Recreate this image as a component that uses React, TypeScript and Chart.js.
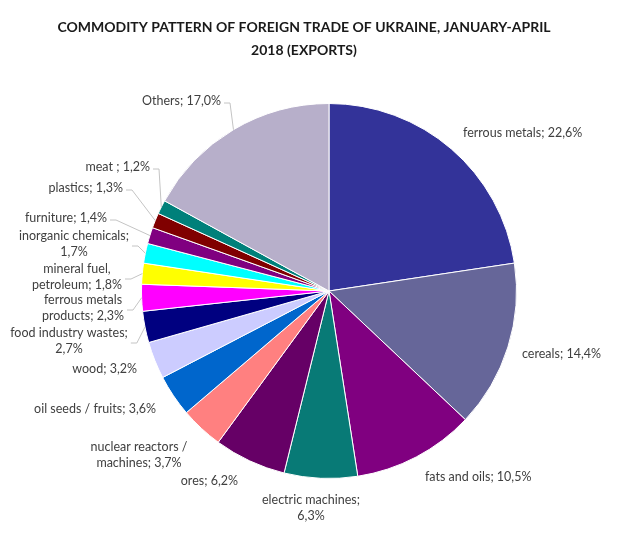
import React, { useEffect, useRef } from "react";
import { Chart, registerables } from "chart.js";

Chart.register(...registerables);

// ---------- data ----------
const TITLE_LINES = [
  "COMMODITY PATTERN OF FOREIGN TRADE OF UKRAINE, JANUARY-APRIL",
  "2018 (EXPORTS)",
];

const CATEGORIES = [
  "ferrous metals",
  "cereals",
  "fats and oils",
  "electric machines",
  "ores",
  "nuclear reactors / machines",
  "oil seeds / fruits",
  "wood",
  "food industry wastes",
  "ferrous metals products",
  "mineral fuel, petroleum",
  "inorganic chemicals",
  "furniture",
  "plastics",
  "meat ",
  "Others",
];

const SHARES = [22.6, 14.4, 10.5, 6.3, 6.2, 3.7, 3.6, 3.2, 2.7, 2.3, 1.8, 1.7, 1.4, 1.3, 1.2, 17.0];

const COLORS = [
  "#333399",
  "#666699",
  "#800080",
  "#087A76",
  "#660066",
  "#FF8080",
  "#0066CC",
  "#CCCCFF",
  "#000080",
  "#FF00FF",
  "#FFFF00",
  "#00FFFF",
  "#800080",
  "#800000",
  "#00807A",
  "#B7AFCA",
];

// ---------- label layout (text placement only) ----------
// number of words on first line (0 = single line)
const LINE_SPLIT = [0, 0, 0, 2, 0, 3, 0, 0, 3, 2, 2, 2, 0, 0, 0, 0];
// anchor x, anchor y (block centre), alignment
const LABEL_X = [463, 522, 425, 311, 238, 139, 156, 137, 69, 83, 77, 74, 107, 123, 150, 221];
const LABEL_Y = [133, 354, 477, 508, 481, 455, 409, 369, 341, 308, 277, 244, 218, 188, 167, 101];
const LABEL_ALIGN: CanvasTextAlign[] = [
  "left", "left", "left", "center", "right", "center", "right", "right",
  "center", "center", "center", "center", "right", "right", "right", "right",
];
const HAS_LEADER = [false, false, false, false, false, false, false, false, true, true, true, true, true, true, true, true];

const FONT_FAMILY = "Lato, 'Open Sans', sans-serif";
const LABEL_FONT = `12.5px ${FONT_FAMILY}`;
const TITLE_FONT = `bold 14px ${FONT_FAMILY}`;
const LINE_H = 16;

const fmt = (v: number) => v.toFixed(1).replace(".", ",") + "%";

function labelLines(i: number): string[] {
  const words = `${CATEGORIES[i]}; ${fmt(SHARES[i])}`.replace(" ;", " ;").split(" ");
  const n = LINE_SPLIT[i];
  if (!n) return [words.join(" ")];
  return [words.slice(0, n).join(" "), words.slice(n).join(" ")];
}

const labelPlugin = {
  id: "sliceLabels",
  afterDatasetsDraw(chart: any) {
    const ctx: CanvasRenderingContext2D = chart.ctx;
    const meta = chart.getDatasetMeta(0);
    ctx.save();

    // title
    ctx.font = TITLE_FONT;
    ctx.fillStyle = "#1a1a1a";
    ctx.textAlign = "center";
    ctx.textBaseline = "middle";
    TITLE_LINES.forEach((t, k) => ctx.fillText(t, 304, 27 + k * 23));

    ctx.font = LABEL_FONT;
    meta.data.forEach((arc: any, i: number) => {
      const { x, y, startAngle, endAngle, outerRadius } = arc.getProps(
        ["x", "y", "startAngle", "endAngle", "outerRadius"],
        true
      );
      const lines = labelLines(i);
      const widths = lines.map((l) => ctx.measureText(l).width);
      const maxW = Math.max(...widths);
      const ax = LABEL_X[i];
      const cy = LABEL_Y[i];
      const align = LABEL_ALIGN[i];
      let right = ax;
      if (align === "left") right = ax + maxW;
      if (align === "center") right = ax + maxW / 2;

      if (HAS_LEADER[i]) {
        const mid = (startAngle + endAngle) / 2;
        const px = x + Math.cos(mid) * outerRadius;
        const py = y + Math.sin(mid) * outerRadius;
        ctx.strokeStyle = "#c4c4c4";
        ctx.lineWidth = 1;
        ctx.beginPath();
        ctx.moveTo(right + 3, cy + 2);
        ctx.lineTo(right + 9, cy + 2);
        ctx.lineTo(px, py);
        ctx.stroke();
      }

      ctx.fillStyle = "#404040";
      ctx.textAlign = align;
      ctx.textBaseline = "middle";
      const top = cy - ((lines.length - 1) * LINE_H) / 2;
      lines.forEach((l, k) => ctx.fillText(l, ax, top + k * LINE_H));
    });
    ctx.restore();
  },
};

export default function App() {
  const ref = useRef<HTMLCanvasElement | null>(null);

  useEffect(() => {
    if (!ref.current) return;
    const chart = new Chart(ref.current, {
      type: "pie",
      data: {
        labels: CATEGORIES,
        datasets: [
          {
            data: SHARES,
            backgroundColor: COLORS,
            borderColor: "#ffffff",
            borderWidth: 1,
          },
        ],
      },
      options: {
        animation: false,
        responsive: true,
        maintainAspectRatio: false,
        layout: { padding: { left: 141, right: 102, top: 103, bottom: 70 } },
        plugins: {
          legend: { display: false },
          title: { display: false },
          tooltip: { enabled: false },
        },
      },
      plugins: [labelPlugin],
    });
    return () => chart.destroy();
  }, []);

  return (
    <div
      style={{
        position: "absolute",
        left: 0,
        top: 0,
        width: 619,
        height: 549,
        background: "#ffffff",
      }}
    >
      <canvas ref={ref} />
    </div>
  );
}
